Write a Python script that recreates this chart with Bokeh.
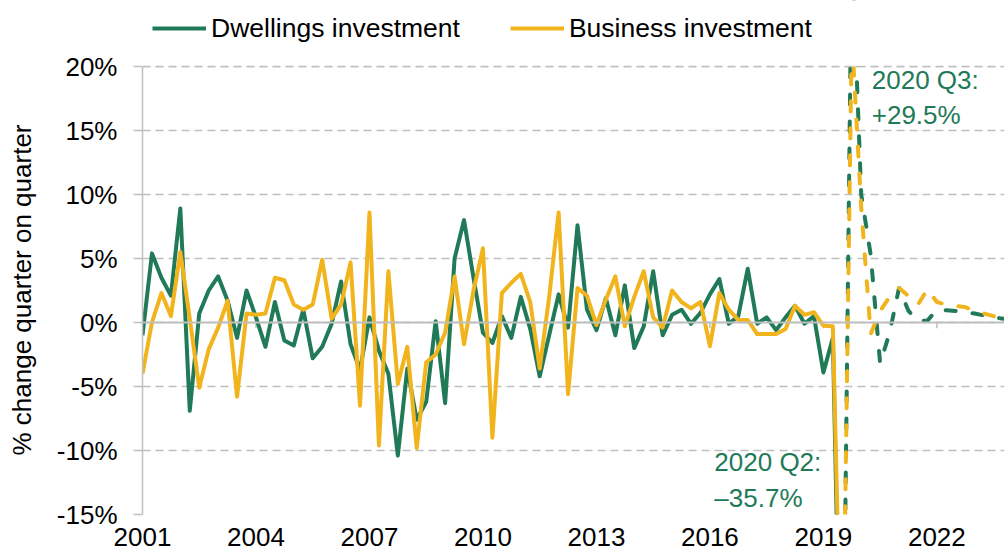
import numpy as np
from bokeh.plotting import figure
from bokeh.models import Range1d, FixedTicker, Span, Legend, LegendItem, BoxAnnotation
from bokeh.embed import file_html
from bokeh.resources import INLINE
from bokeh.core.properties import value

# ---------------- data (quarter-on-quarter % change) ----------------
# outturn: first quarter shown (labelled 2001) up to 2020 Q2
dwellings_outturn = [
    -1.0, 5.4, 3.5, 2.1, 8.9, -6.9, 0.7, 2.5, 3.6, 1.7,
    -1.2, 2.5, 0.4, -1.9, 1.6, -1.4, -1.8, 1.0, -2.8, -1.9,
    -0.1, 3.2, -1.7, -3.7, 0.4, -2.2, -4.0, -10.4, -3.6, -7.6,
    -6.2, 0.1, -6.3, 5.0, 8.0, 3.5, -0.8, -1.6, 0.5, -1.2,
    2.0, -0.5, -4.2, -1.0, 2.2, -0.4, 7.6, 1.0, -0.6, 1.9,
    -1.0, 2.9, -2.0, -0.3, 4.0, -1.0, 0.6, 1.0, -0.1, 0.75,
    2.2, 3.4, -0.1, 0.5, 4.2, -0.1, 0.4, -0.6, 0.4, 1.3,
    -0.1, 0.5, -3.9, -1.2, -35.7,
]
business_outturn = [
    -4.0, 0.0, 2.3, 0.5, 5.5, 0.3, -5.1, -2.1, -0.4, 1.7,
    -5.8, 0.7, 0.6, 0.7, 3.5, 3.3, 1.4, 1.0, 1.4, 4.9,
    0.3, 1.4, 4.7, -6.5, 8.6, -9.6, 4.0, -4.8, -1.9, -9.8,
    -3.1, -2.5, -0.8, 3.6, -1.7, 2.5, 5.8, -9.0, 2.3, 3.1,
    3.8, 1.6, -3.6, 2.0, 8.6, -5.6, 2.7, 2.1, -0.2, 1.8,
    3.6, -0.3, 2.0, 4.0, 0.4, -0.4, 2.5, 1.6, 1.1, 1.6,
    -1.85, 2.3, 1.0, 0.2, 0.2, -0.9, -0.9, -0.9, -0.5, 1.3,
    0.6, 0.8, -0.25, -0.3, -31.0,
]
# forecast: 2020 Q2 onwards
dwellings_forecast = [
    -35.7, 29.5, 10.0, 5.3, -3.2, -0.8, 2.7, 0.9, 0.1, 0.15,
    1.0, 0.95, 0.9, 0.8, 0.7, 0.55, 0.4, 0.3,
]
business_forecast = [
    -31.0, 22.5, 9.0, -0.9, 0.9, 2.0, 2.7, 2.05, 1.4, 2.6,
    1.6, 1.4, 1.3, 1.2, 0.9, 0.7, 0.5, 0.3,
]
forecast_start = len(dwellings_outturn) - 1   # index of 2020 Q2

year_ticks = [0, 12, 24, 36, 48, 60, 72, 84]
year_labels = ["2001", "2004", "2007", "2010", "2013", "2016", "2019", "2022"]
y_ticks = [-15, -10, -5, 0, 5, 10, 15, 20]
y_labels = ["-15%", "-10%", "-5%", "0%", "5%", "10%", "15%", "20%"]

series_names = ["Dwellings investment", "Business investment"]
y_title = "% change quarter on quarter"
ann_q3_text = "2020 Q3:\n+29.5%"
ann_q2_text = "2020 Q2:\n\u201335.7%"

GREEN = "#217A57"
YELLOW = "#F1B41C"
GRID = "#BFBFBF"
FONT = "Liberation Sans"

x_out = np.arange(len(dwellings_outturn))
x_fc = np.arange(forecast_start, forecast_start + len(dwellings_forecast))

# layout: plot area 142..1004 x 66..514 px; the strip above 20% holds the legend
PX_PER_UNIT = 448 / (y_ticks[-1] - y_ticks[0])
y_min = y_ticks[0]
y_max = y_ticks[-1]
y_top = y_max + 66 / PX_PER_UNIT
x_min, x_max = 0, 91.15

p = figure(width=1004, height=556, output_backend="svg", toolbar_location=None,
           x_range=Range1d(x_min, x_max), y_range=Range1d(y_min, y_top),
           min_border_left=142, min_border_right=0, min_border_top=0,
           min_border_bottom=42)
p.outline_line_color = None
p.background_fill_color = "white"

# grid
p.xgrid.grid_line_color = None
p.ygrid.ticker = FixedTicker(ticks=y_ticks)
p.ygrid.grid_line_color = GRID
p.ygrid.grid_line_width = 1.5
p.ygrid.grid_line_dash = "8 5"

# y axis
p.yaxis.ticker = FixedTicker(ticks=y_ticks)
p.yaxis.bounds = (y_min, y_max)
p.yaxis.major_label_overrides = dict(zip(y_ticks, y_labels))
p.yaxis.axis_line_color = GRID
p.yaxis.axis_line_width = 1.5
p.yaxis.major_tick_line_color = GRID
p.yaxis.major_tick_line_width = 1.5
p.yaxis.major_tick_out = 9
p.yaxis.major_tick_in = 0
p.yaxis.minor_tick_line_color = None
p.yaxis.major_label_standoff = 16
p.yaxis.major_label_text_font = FONT
p.yaxis.major_label_text_font_size = "26px"
p.yaxis.major_label_text_color = "#000000"
# trailing no-break spaces centre the visible title on the -15%..20% span
p.yaxis.axis_label = y_title + "\u00a0" * 9
p.yaxis.axis_label_text_font = FONT
p.yaxis.axis_label_text_font_size = "26px"
p.yaxis.axis_label_text_font_style = "normal"
p.yaxis.axis_label_text_color = "#000000"
p.yaxis.axis_label_standoff = 17

# x axis (labels only, at the bottom)
p.xaxis.ticker = FixedTicker(ticks=year_ticks)
p.xaxis.major_label_overrides = dict(zip(year_ticks, year_labels))
p.xaxis.axis_line_color = None
p.xaxis.major_tick_line_color = None
p.xaxis.minor_tick_line_color = None
p.xaxis.major_tick_out = 0
p.xaxis.major_tick_in = 0
p.xaxis.major_label_standoff = 13
p.xaxis.major_label_text_font = FONT
p.xaxis.major_label_text_font_size = "26px"
p.xaxis.major_label_text_color = "#000000"

# zero line with category tick marks
p.add_layout(Span(location=0, dimension="width", line_color=GRID, line_width=2))
p.segment(x0=year_ticks, y0=0, x1=year_ticks, y1=-0.45, line_color=GRID, line_width=1.5)

# series
g_solid = p.line(x_out, dwellings_outturn, line_color=GREEN, line_width=4, line_join="round")
y_solid = p.line(x_out, business_outturn, line_color=YELLOW, line_width=4, line_join="round")
p.line(x_fc, dwellings_forecast, line_color=GREEN, line_width=4, line_dash="10 17",
       line_cap="round", line_join="round")
p.line(x_fc, business_forecast, line_color=YELLOW, line_width=4, line_dash="10 17",
       line_dash_offset=13, line_cap="round", line_join="round")

# annotations
p.text(x=[forecast_start + 1], y=[y_max], text=[ann_q3_text], x_offset=20, y_offset=-2,
       text_font=value(FONT), text_font_size="26px", text_color=GREEN,
       text_align="left", text_baseline="top", text_line_height=1.17)
p.text(x=[forecast_start], y=[y_min], text=[ann_q2_text], x_offset=-128, y_offset=-2,
       text_font=value(FONT), text_font_size="26px", text_color=GREEN,
       text_align="left", text_baseline="bottom", text_line_height=1.2)

# white strip above the 20% line (series are cut off at the top of the axis)
p.add_layout(BoxAnnotation(bottom=y_max, top=y_top + 1, left=x_min - 1, right=x_max + 1,
                           fill_color="white", fill_alpha=1.0, line_color=None))
p.add_layout(Span(location=y_max, dimension="width", line_color=GRID, line_width=1.5,
                  line_dash="8 5"))

legend = Legend(items=[LegendItem(label=series_names[0], renderers=[g_solid]),
                       LegendItem(label=series_names[1], renderers=[y_solid])],
                orientation="horizontal", location="top_left",
                glyph_width=54, glyph_height=36, label_height=36,
                label_standoff=5, spacing=50,
                padding=0, margin=10, border_line_color=None, background_fill_alpha=0,
                label_text_font=FONT, label_text_font_size="26.5px",
                label_text_color="#000000")
p.add_layout(legend)

open("out.html", "w").write(file_html(p, INLINE))
